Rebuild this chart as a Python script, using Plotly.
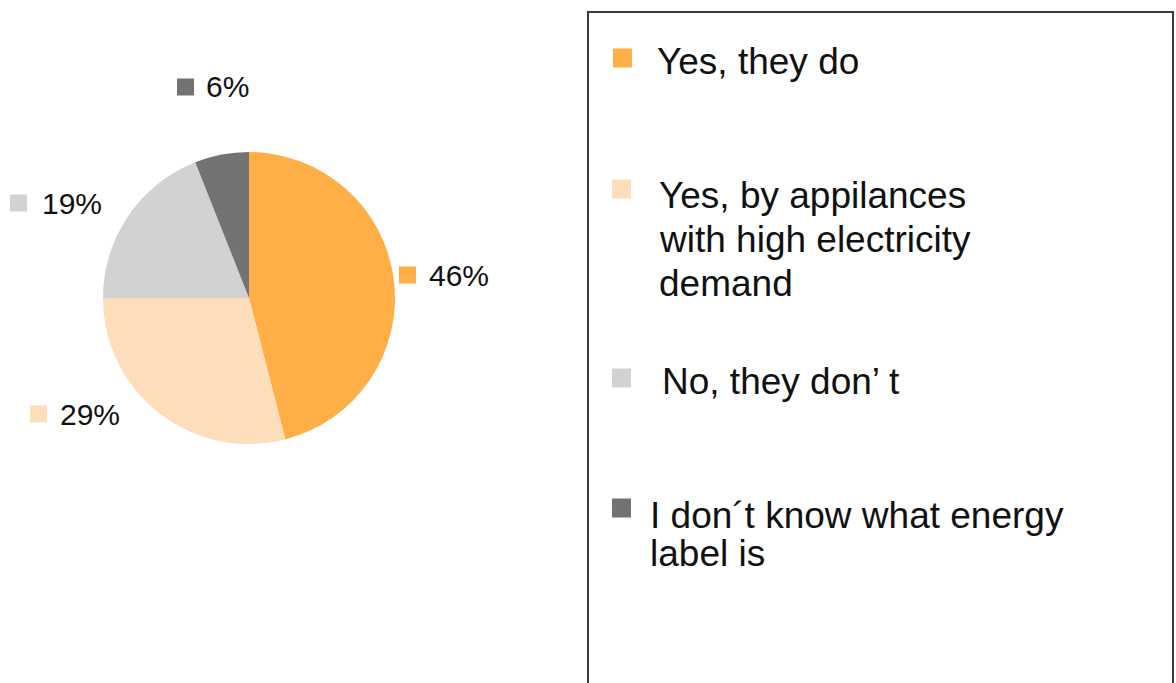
import plotly.graph_objects as go

W, H = 1176, 683

# ---- data ----
categories = [
    "Yes, they do",
    "Yes, by appilances<br>with high electricity<br>demand",
    "No, they don’ t",
    "I don´t know what energy<br>label is",
]
values = [46, 29, 19, 6]
colors = ["#FFAF45", "#FEDDBB", "#D2D2D2", "#737373"]

# placement (window pixels) for percentage labels: square-left x, center y, text-left x
pct_pos = [(399, 275, 427), (30, 414, 58), (10, 203, 40), (177, 87, 204)]
# legend item placement (window pixels): marker-left x, marker center y, text-left x, first line center y, line step
leg_pos = [(613, 58, 655, 62, 44), (612, 189, 657, 195, 44), (612, 378, 660, 381, 44), (612, 508, 648, 515, 38)]


def px(x):
    return x / W


def py(y):
    return 1 - y / H


fig = go.Figure()

cx, cy, r = 249, 298, 146
fig.add_trace(go.Pie(
    values=values,
    labels=[c.replace("<br>", " ") for c in categories],
    marker=dict(colors=colors, line=dict(width=0)),
    sort=False,
    direction="clockwise",
    rotation=0,
    textinfo="none",
    hoverinfo="label+percent",
    showlegend=False,
    domain=dict(x=[px(cx - r), px(cx + r)], y=[py(cy + r), py(cy - r)]),
))

FONT = "Liberation Sans, Arial"
shapes = []
annotations = []
sq = 17
for v, c, (sx, syc, tx) in zip(values, colors, pct_pos):
    shapes.append(dict(type="rect", xref="paper", yref="paper",
                       x0=px(sx), x1=px(sx + sq), y0=py(syc + sq / 2), y1=py(syc - sq / 2),
                       fillcolor=c, line=dict(width=0)))
    annotations.append(dict(text=f"{v}%", xref="paper", yref="paper",
                            x=px(tx), y=py(syc), xanchor="left", yanchor="middle",
                            showarrow=False, font=dict(family=FONT, size=30, color="#111111")))

# legend frame
shapes.append(dict(type="rect", xref="paper", yref="paper",
                   x0=px(588), x1=px(1173), y0=py(720), y1=py(12),
                   line=dict(color="#3a3a3a", width=2), fillcolor="rgba(0,0,0,0)"))

lsq = 19
for cat, c, (mx, myc, tx, tyc, step) in zip(categories, colors, leg_pos):
    shapes.append(dict(type="rect", xref="paper", yref="paper",
                       x0=px(mx), x1=px(mx + lsq), y0=py(myc + lsq / 2), y1=py(myc - lsq / 2),
                       fillcolor=c, line=dict(width=0)))
    for i, line in enumerate(cat.split("<br>")):
        annotations.append(dict(text=line, xref="paper", yref="paper",
                                x=px(tx), y=py(tyc + i * step), xanchor="left", yanchor="middle",
                                align="left", showarrow=False,
                                font=dict(family=FONT, size=37, color="#111111")))

fig.update_layout(
    width=W, height=H,
    margin=dict(l=0, r=0, t=0, b=0),
    paper_bgcolor="white", plot_bgcolor="white",
    shapes=shapes, annotations=annotations,
)

fig.write_html(
    "out.html",
    config={"displayModeBar": False},
    post_script="document.body.style.margin='0';document.body.style.overflow='hidden';",
)
